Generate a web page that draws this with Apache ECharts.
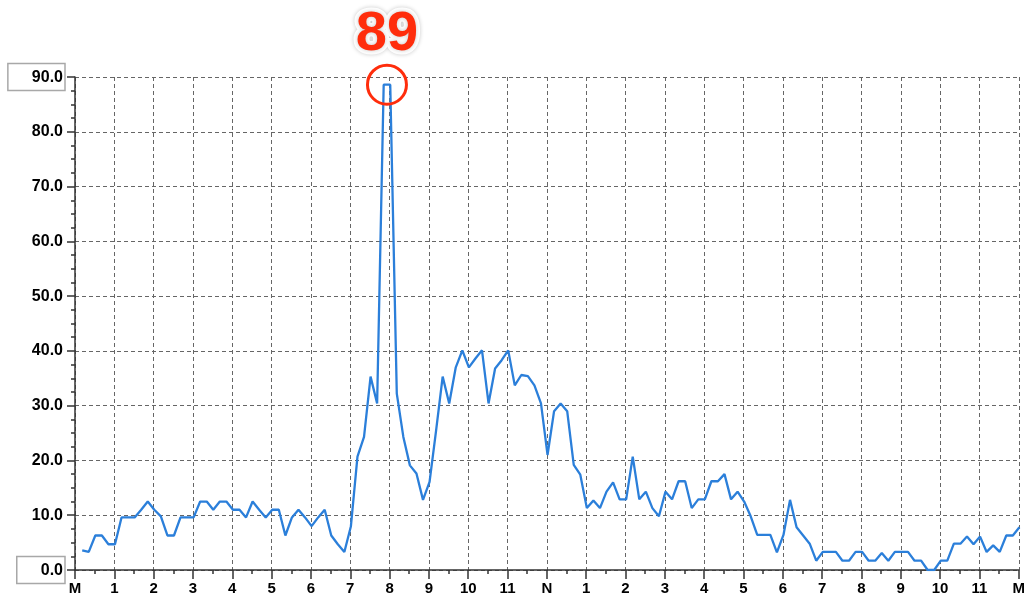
<!DOCTYPE html>
<html>
<head>
<meta charset="utf-8">
<script src="https://cdn.jsdelivr.net/npm/echarts@6/dist/echarts.min.js"></script>
<style>
  html, body { margin: 0; padding: 0; background: #fff; }
  #main { width: 1028px; height: 597px; }
</style>
</head>
<body>
<div id="main"></div>
<script>
// one reading every 10 minutes, first one at 00:11
const sampleStartMin = 11;
const sampleStepMin = 10;

// midnight -> noon
const amValues = [
  3.6, 3.3, 6.3, 6.3, 4.7, 4.7,
  9.6, 9.6, 9.6, 11.0, 12.5, 11.0,
  9.8, 6.3, 6.3, 9.6, 9.6, 9.6,
  12.5, 12.5, 11.0, 12.5, 12.5, 11.0,
  11.0, 9.6, 12.5, 11.0, 9.6, 11.0,
  11.0, 6.3, 9.6, 11.0, 9.6, 8.0,
  9.6, 11.0, 6.3, 4.7, 3.3, 8.0,
  20.7, 24.3, 35.3, 30.4, 88.6, 88.6,
  32.2, 24.3, 19.1, 17.6, 12.8, 16.1,
  25.5, 35.3, 30.4, 37.0, 40.1, 37.0,
  38.6, 40.1, 30.4, 36.8, 38.3, 40.1,
  33.7, 35.6, 35.4, 33.7, 30.4, 21.0,
];
// noon -> midnight
const pmValues = [
  29.0, 30.4, 29.0, 19.2, 17.4, 11.3,
  12.7, 11.3, 14.3, 16.0, 12.9, 12.9,
  20.7, 12.9, 14.3, 11.3, 9.8, 14.3,
  12.9, 16.2, 16.2, 11.3, 12.9, 12.9,
  16.2, 16.2, 17.5, 12.9, 14.3, 12.5,
  9.8, 6.4, 6.4, 6.4, 3.2, 6.4,
  12.8, 7.8, 6.3, 4.8, 1.7, 3.3,
  3.3, 3.3, 1.7, 1.7, 3.3, 3.3,
  1.7, 1.7, 3.1, 1.7, 3.3, 3.3,
  3.3, 1.7, 1.7, 0.0, 0.0, 1.7,
  1.7, 4.8, 4.8, 6.1, 4.7, 6.1,
  3.3, 4.5, 3.3, 6.3, 6.3, 7.8,
];

const hourLabels = ['M', '1', '2', '3', '4', '5', '6', '7', '8', '9', '10', '11',
  'N', '1', '2', '3', '4', '5', '6', '7', '8', '9', '10', '11', 'M'];
const peakText = '89';

const values = amValues.concat(pmValues);
const seriesData = values.map((v, i) => [(sampleStartMin + i * sampleStepMin) / 60, v]);

// where the maximum sits (it is flat over two readings)
const peakValue = Math.max(...values);
const peakIdx = values.map((v, i) => (v === peakValue ? i : -1)).filter(i => i >= 0);
const peakTime = peakIdx.reduce((s, i) => s + seriesData[i][0], 0) / peakIdx.length;

const red = '#ff2d0c';
const labelFont = 'Liberation Sans, Arial, sans-serif';

const chart = echarts.init(document.getElementById('main'));
chart.setOption({
  animation       : false,
  backgroundColor : '#fff',
  grid            : { left: 75, right: 1, top: 77, bottom: 27, containLabel: false },
  xAxis           : {
    type      : 'value',
    min       : 0,
    max       : 24,
    interval  : 1,
    axisLine  : { lineStyle: { color: '#333', width: 1.5 } },
    axisTick  : { length: 9, lineStyle: { color: '#333', width: 1.5 } },
    minorTick : { show: true, splitNumber: 2, length: 4, lineStyle: { color: '#333', width: 1.5 } },
    axisLabel : {
      margin       : 11,
      color        : '#000',
      fontFamily   : labelFont,
      fontWeight   : 'bold',
      fontSize     : 15,
      showMinLabel : true,
      showMaxLabel : true,
      hideOverlap  : false,
      formatter    : v => hourLabels[v],
    },
    splitLine: { show: true, lineStyle: { color: '#666', width: 1, type: [4, 3] } },
  },
  yAxis: {
    type      : 'value',
    min       : 0,
    max       : 90,
    interval  : 10,
    axisLine  : { show: true, lineStyle: { color: '#333', width: 1.5 } },
    axisTick  : { show: true, length: 8, lineStyle: { color: '#333', width: 1.5 } },
    minorTick : { show: true, splitNumber: 4, length: 4, lineStyle: { color: '#333', width: 1.5 } },
    axisLabel : {
      margin    : 10,
      formatter : v => (v === 0 || v === 90 ? `{box|${v.toFixed(1)}}` : `{n|${v.toFixed(1)}}`),
      rich      : {
        box: {
          color       : '#000',
          fontFamily  : labelFont,
          fontWeight  : 'bold',
          fontSize    : 16,
          borderColor : '#a8a8a8',
          borderWidth : 1.5,
          padding     : [6, 2, 5, 24],
        },
        n: {
          color      : '#000',
          fontFamily : labelFont,
          fontWeight : 'bold',
          fontSize   : 16,
          padding    : [0, 2, 0, 0],
        },
      },
    },
    splitLine: { show: true, lineStyle: { color: '#666', width: 1, type: [4, 3] } },
  },
  series: [{
    type      : 'line',
    data      : seriesData,
    symbol    : 'none',
    lineStyle : { color: '#2b7fda', width: 2.3 },
    markPoint : {
      symbol     : 'circle',
      symbolSize : 39,
      itemStyle  : { color: 'rgba(255,255,255,0)', borderColor: red, borderWidth: 3 },
      emphasis   : { disabled: true },
      label      : {
        show            : true,
        position        : 'inside',
        offset          : [0, -50],
        formatter       : peakText,
        color           : red,
        fontFamily      : labelFont,
        fontWeight      : 'bold',
        fontSize        : 56,
        textBorderColor : '#fff',
        textBorderWidth : 8,
        textShadowColor : 'rgba(0,0,0,0.22)',
        textShadowBlur  : 4,
      },
      data: [{ coord: [peakTime, peakValue] }],
    },
  }],
});
</script>
</body>
</html>
